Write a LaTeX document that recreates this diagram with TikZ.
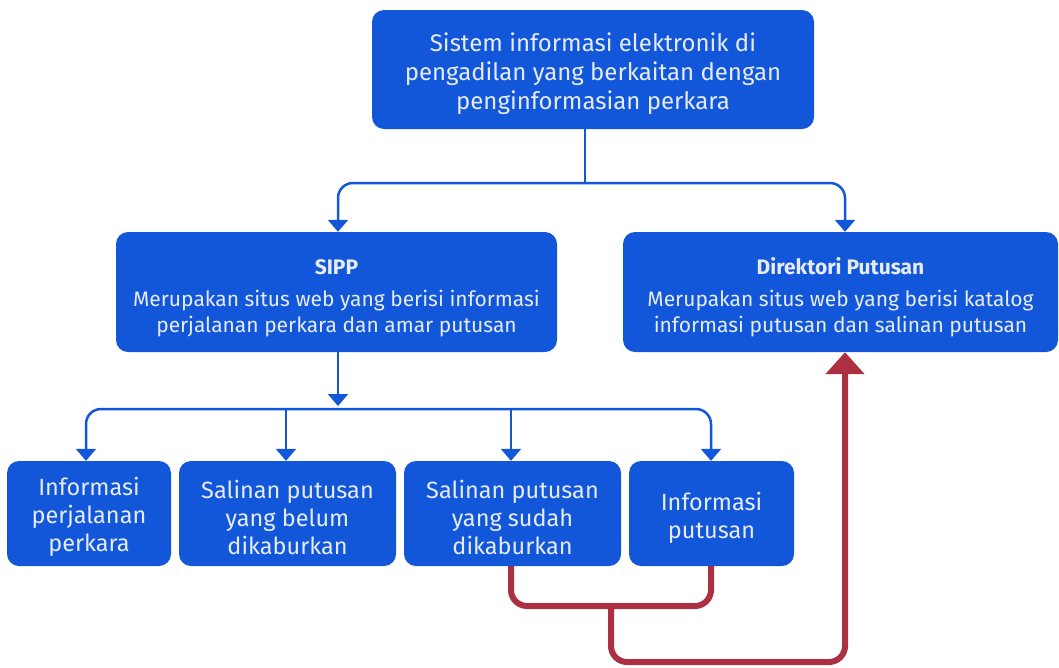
\documentclass[tikz,border=0pt]{standalone}
\usepackage{fontspec}
\setmainfont{Fira Sans}
\usetikzlibrary{arrows.meta,calc}
\definecolor{boxblue}{HTML}{1256DA}
\definecolor{txt}{HTML}{E6ECF7}
\definecolor{linkred}{HTML}{AC2F42}
\newcommand{\lowr}[1]{\rule{0pt}{#1}}
\tikzset{
  box/.style={draw=none,fill=boxblue,rounded corners=12pt,text=txt,align=center,inner sep=0pt},
  bline/.style={draw=boxblue,line width=2.5pt,rounded corners=15pt},
  btip/.style={-{Triangle[width=20pt,length=12pt]}},
  rline/.style={draw=linkred,line width=6pt,rounded corners=16pt},
}
\begin{document}
\begin{tikzpicture}[x=1pt,y=-1pt]
\useasboundingbox (0,0) rectangle (1059,667);
\node[box,minimum width=442pt,minimum height=119pt,font=\fontsize{24}{29}\selectfont] (top) at (593,69.5)
  {\lowr{27.5pt}Sistem informasi elektronik di\\pengadilan yang berkaitan dengan\\penginformasian perkara};
\node[box,minimum width=441pt,minimum height=120pt,font=\fontsize{21}{26}\selectfont] (sipp) at (336.5,292)
  {\lowr{27pt}\textbf{SIPP}\\[6pt]Merupakan situs web yang berisi informasi\\perjalanan perkara dan amar putusan};
\node[box,minimum width=435pt,minimum height=120pt,font=\fontsize{21}{26}\selectfont] (dir) at (840.5,292)
  {\lowr{27pt}\textbf{Direktori Putusan}\\[6pt]Merupakan situs web yang berisi katalog\\informasi putusan dan salinan putusan};
\node[box,minimum width=164pt,minimum height=105pt,font=\fontsize{23.5}{28}\selectfont] (b1) at (89,513.5)
  {\lowr{25.5pt}Informasi\\perjalanan\\perkara};
\node[box,minimum width=217pt,minimum height=105pt,font=\fontsize{23.5}{28}\selectfont] (b2) at (287.5,513.5)
  {\lowr{25.5pt}Salinan putusan\\yang belum\\dikaburkan};
\node[box,minimum width=217pt,minimum height=105pt,font=\fontsize{23.5}{28}\selectfont] (b3) at (512.5,513.5)
  {\lowr{25.5pt}Salinan putusan\\yang sudah\\dikaburkan};
\node[box,minimum width=165pt,minimum height=105pt,font=\fontsize{23.5}{28}\selectfont] (b4) at (711.5,513.5)
  {\lowr{27pt}Informasi\\putusan};
% junctions
\coordinate (j1) at (585,183);
\coordinate (j2) at (338,409);
\coordinate (ja) at (86,409);
\coordinate (jb) at (286,409);
\coordinate (jc) at (511,409);
\coordinate (jd) at (711,409);
\coordinate (r1) at (511,606);
\coordinate (r2) at (711,606);
\coordinate (rm) at (611,606);
\coordinate (r3) at (611,662);
\coordinate (r4) at (845,662);
% blue connectors
\draw[bline] (top.south -| j1) -- (j1);
\draw[bline,btip] (j1) -| (sipp.north -| 338,0);
\draw[bline,btip] (j1) -| (dir.north -| 845,0);
\draw[bline,btip] (sipp.south -| j2) -- ($(j2)+(0,-3)$);
\draw[bline,btip] (jc) -- (ja) -- (b1.north -| ja);
\draw[bline,btip] (jc) -- (jd) -- (b4.north -| jd);
\draw[bline,btip] (jb) -- (b2.north -| jb);
\draw[bline,btip] (jc) -- (b3.north -| jc);
% red connectors
\draw[rline] (b3.south -| r1) -- (r1) -- (r2) -- (b4.south -| r2);
\draw[rline,-{Triangle[width=38pt,length=22pt]}] (rm) -- (r3) -- (r4) -- (dir.south -| r4);
\end{tikzpicture}
\end{document}
